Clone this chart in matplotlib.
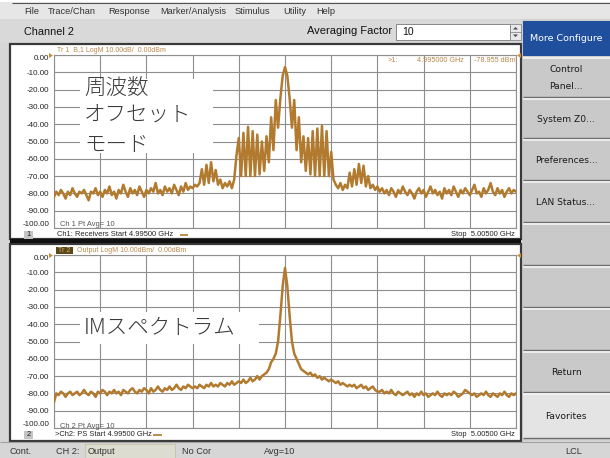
import matplotlib
matplotlib.use("Agg")
import matplotlib.pyplot as plt
from matplotlib.patches import Rectangle, Polygon
import numpy as np

# ---------------- data ----------------
start_ghz = 4.995
stop_ghz = 5.005
n_points = 201
y_ticks = [0, -10, -20, -30, -40, -50, -60, -70, -80, -90, -100]

# Trace 1 (frequency offset mode), dBm at each of 201 sweep points
tr1_db = [
    # 4.99500 .. 4.99795 GHz
    -82, -79, -81, -78, -80, -83, -79, -81, -77, -80,
    -82, -79, -80, -78, -81, -84, -79, -80, -77, -81,
    -79, -82, -78, -80, -76, -81, -79, -83, -78, -80,
    -75, -79, -82, -77, -80, -78, -81, -76, -79, -82,
    -78, -80, -77, -79, -74, -80, -78, -81, -76, -79,
    -77, -80, -75, -78, -81, -76, -79, -74, -78, -76,
    # 4.99800 .. 5.00195 GHz
    -77, -75, -76, -74, -66, -75, -63.5, -74, -62, -73,
    -66.5, -75, -72, -77, -74, -76, -73, -77, -72, -58,
    -48, -70, -45, -70, -41.5, -70, -44, -70, -46, -69,
    -50, -67, -47, -62, -36, -55, -26, -42, -25, -12,
    -7, -12, -25, -42, -26, -55, -36, -62, -47, -67,
    -48, -69, -44, -70, -42.5, -70, -41, -70, -44, -70,
    -56, -72, -75, -77, -74, -78, -75, -77, -68, -76,
    -66, -75, -63, -74, -64, -76, -70, -77, -75, -78,
    # 5.00200 .. 5.00500 GHz
    -76, -79, -77, -80, -78, -81, -77, -79, -82, -78,
    -80, -76, -79, -81, -78, -80, -83, -79, -77, -80,
    -78, -82, -79, -76, -80, -78, -81, -79, -83, -77,
    -80, -78, -81, -76, -79, -82, -78, -80, -77, -79,
    -81, -78, -75, -80, -79, -82, -77, -80, -78, -74,
    -79, -81, -77, -80, -78, -82, -79, -77, -80, -78,
    -79,
]

# Trace 2 (IM spectrum), dBm at each of 201 sweep points
tr2_db = [
    -85, -80, -81, -79, -80, -82, -80, -79, -81, -80,
    -79, -81, -80, -78, -80, -81, -79, -80, -82, -79,
    -80, -78, -79, -81, -79, -80, -78, -80, -79, -81,
    -78, -79, -80, -78, -77, -79, -80, -78, -79, -77,
    -78, -80, -77, -79, -78, -76, -78, -79, -77, -78,
    -76, -78, -77, -75, -77, -78, -76, -77, -75, -76,
    -77, -76, -77, -75, -76, -77, -75, -76, -74, -76,
    -75, -76, -74, -75, -76, -74, -75, -73, -75, -74,
    -73, -74, -72, -74, -73, -71, -73, -72, -70, -72,
    -70, -69, -68, -66, -62, -60, -57, -50, -35, -18,
    -7.5,
    -18, -35, -50, -57, -60, -63, -66, -67, -68, -69,
    -68, -70, -69, -71, -70, -72, -71, -72, -73, -72,
    -73, -74, -73, -75, -74, -75, -76, -75, -76, -75,
    -77, -76, -75, -77, -76, -78, -77, -76, -78, -79,
    -79, -78, -80, -79, -80, -78, -80, -81, -79, -80,
    -81, -80, -79, -81, -80, -82, -80, -81, -79, -81,
    -80, -82, -81, -80, -81, -79, -81, -82, -80, -81,
    -80, -81, -79, -80, -82, -81, -80, -78, -79, -80,
    -81, -80, -82, -81, -80, -81, -79, -81, -82, -80,
    -81, -82, -80, -81, -79, -81, -82, -80, -81, -80,
]

menu_items = ["File", "Trace/Chan", "Response", "Marker/Analysis", "Stimulus", "Utility", "Help"]
menu_x = [24, 48, 108, 160, 235, 283, 316]

button_labels = ["Control\nPanel...", "System Z0...", "Preferences...", "LAN Status...",
                 "", "", "", "Return", "Favorites"]
button_tops = [57, 98, 139, 181, 223, 266, 308, 351, 393]
button_bottoms = [97, 138, 180, 222, 265, 307, 350, 392, 438]

assert len(tr1_db) == n_points and len(tr2_db) == n_points

# ---------------- styling ----------------
W, H = 610, 458
TRACE = "#b27a2e"
TAN = "#b8894c"
GRID = "#8e8e8e"
UI_BG = "#d6d6d6"
UIFONT = "Liberation Sans"
JPFONT = ["Noto Sans CJK JP", "DejaVu Sans"]

fig = plt.figure(figsize=(W / 100, H / 100), dpi=100)
fig.patch.set_facecolor(UI_BG)

ui = fig.add_axes([0, 0, 1, 1], zorder=0)
ui.set_xlim(0, W)
ui.set_ylim(H, 0)
ui.axis("off")

over = fig.add_axes([0, 0, 1, 1], zorder=10)
over.set_xlim(0, W)
over.set_ylim(H, 0)
over.axis("off")
over.patch.set_alpha(0)


def rect(ax, x0, y0, x1, y1, fc, ec="none", lw=0, z=1):
    ax.add_patch(Rectangle((x0, y0), x1 - x0, y1 - y0, facecolor=fc,
                           edgecolor=ec, linewidth=lw, zorder=z))


def hline(ax, x0, x1, y, color, lw=1, z=2):
    ax.plot([x0, x1], [y, y], color=color, lw=lw, zorder=z, solid_capstyle="butt")


def txt(ax, x, y, s, size, color="#222222", ha="left", va="center", family=UIFONT, **kw):
    ax.text(x, y, s, fontsize=size, color=color, ha=ha, va=va, family=family, zorder=20, **kw)


# menu bar
rect(ui, 0, 0, W, 2, "white")
rect(ui, 0, 2, W, 19, "#e6e6e6")
hline(ui, 12, W, 2.5, "#555555", 0.8)
for name, x in zip(menu_items, menu_x):
    txt(ui, x, 12, name, 6.7, "#333333")

# channel bar
rect(ui, 0, 19, W, 43, "#d9d9d9")
txt(ui, 24, 32, "Channel 2", 7.8, "#111111")
txt(ui, 307, 31, "Averaging Factor", 8.0, "#111111")
rect(ui, 396, 24, 510, 40, "white", "#777777", 0.6, z=2)
txt(ui, 402, 32, "10", 7.5, "#111111")
rect(ui, 510, 24, 521, 40, "#e8e8e8", "#888888", 0.6, z=2)
hline(ui, 510, 521, 32, "#888888", 0.6, z=3)
ui.add_patch(Polygon([[513, 29.5], [518, 29.5], [515.5, 27]], closed=True, fc="#444", ec="none", zorder=4))
ui.add_patch(Polygon([[513, 34.5], [518, 34.5], [515.5, 37]], closed=True, fc="#444", ec="none", zorder=4))

# right soft-key panel
rect(ui, 522, 19, W, 441, "#cfcfcf")
rect(ui, 523, 21, W, 56, "#1f4f9d")
txt(ui, 566, 38.5, "More Configure", 6.8, "white", ha="center", family="DejaVu Sans")
for lab, t, b in zip(button_labels, button_tops, button_bottoms):
    face = "#e4e4e4" if lab == "Favorites" else "#c9c9c9"
    rect(ui, 523, t, W, b, face)
    hline(ui, 523, W, t + 0.5, "#f4f4f4", 1.2, z=3)
    hline(ui, 523, W, b - 0.5, "#6e6e6e", 1.0, z=3)
    if lab:
        txt(ui, 566, (t + b) / 2 + 1, lab, 6.6, "#1a1a1a", ha="center",
            family="DejaVu Sans", linespacing=2.2)

# status bar
rect(ui, 0, 441, W, H, "#d6d6d6")
hline(ui, 0, W, 441.5, "#a0a0a0", 0.8)
rect(ui, 85, 444, 175, 458, "#dcdcd0", "#c8c0a0", 0.6, z=2)
txt(ui, 10, 451, "Cont.", 6.6, "#333333")
txt(ui, 56, 451, "CH 2:", 6.6, "#333333")
txt(ui, 88, 451, "Output", 6.6, "#333333")
txt(ui, 182, 451, "No Cor", 6.6, "#333333")
txt(ui, 264, 451, "Avg=10", 6.6, "#333333")
txt(ui, 574, 451, "LCL", 6.6, "#333333", ha="center")

# chart panels
for (top, bot) in [(44, 239), (244, 441)]:
    rect(ui, 10, top, 521, bot, "white", "#3a3a3a", 1.6, z=1)
hline(ui, 10, 521, 240.5, "#111111", 3.0, z=3)


def make_axes(y0, y1, data):
    ax = fig.add_axes([54 / W, 1 - y1 / H, (516 - 54) / W, (y1 - y0) / H], zorder=5)
    freq = np.linspace(start_ghz, stop_ghz, n_points)
    ax.plot(freq, data, color=TRACE, lw=1.8, solid_joinstyle="round", zorder=3)
    ax.set_xlim(start_ghz, stop_ghz)
    ax.set_ylim(-100, 0)
    ax.set_xticks(np.linspace(start_ghz, stop_ghz, 11))
    ax.set_xticklabels([])
    ax.set_yticks(y_ticks)
    ax.set_yticklabels([f"{v:.2f}" for v in y_ticks], family=UIFONT)
    ax.tick_params(length=0, pad=3.5, labelsize=5.8, labelcolor="#222222")
    for lab, v in zip(ax.get_yticklabels(), y_ticks):
        if v == 0:
            lab.set_va("top")
        elif v == -100:
            lab.set_va("bottom")
    ax.grid(True, color=GRID, lw=0.8)
    ax.set_axisbelow(True)
    for s in ax.spines.values():
        s.set_color(GRID)
        s.set_linewidth(0.8)
    ax.set_facecolor("white")
    return ax


ax1 = make_axes(55, 228, tr1_db)
ax2 = make_axes(255, 428, tr2_db)

# panel 1 annotations
txt(over, 57, 50, "Tr 1  B,1 LogM 10.00dB/  0.00dBm", 5.0, TAN)
txt(over, 388, 61, ">1:", 5.2, TAN)
txt(over, 417, 61, "4.995000 GHz", 5.2, TAN)
txt(over, 515, 61, "-78.955 dBm", 5.2, TAN, ha="right")
over.add_patch(Polygon([[49, 53], [49, 58], [53, 55.5]], closed=True, fc="#d08a30", ec="none", zorder=12))
over.add_patch(Polygon([[521, 53], [521, 58], [517, 55.5]], closed=True, fc="#d08a30", ec="none", zorder=12))
txt(over, 60, 225, "Ch 1 Pt Avg= 10", 5.4, "#555555")
rect(over, 24, 231, 33, 239, "#c4c4c4", z=11)
txt(over, 28.5, 235, "1", 5.4, "#222222", ha="center")
txt(over, 57, 235, "Ch1: Receivers Start 4.99500 GHz", 5.4, "#222222")
hline(over, 180, 188, 235, TRACE, 1.2, z=12)
txt(over, 515, 235, "Stop  5.00500 GHz", 5.4, "#222222", ha="right")

# panel 2 annotations
rect(over, 56, 247, 73, 254, "#5a4818", z=11)
txt(over, 64.5, 250.5, "Tr 2", 5.0, "#d8b070", ha="center")
txt(over, 77, 250.5, "Output LogM 10.00dBm/  0.00dBm", 5.0, TAN)
over.add_patch(Polygon([[49, 253], [49, 258], [53, 255.5]], closed=True, fc="#d08a30", ec="none", zorder=12))
over.add_patch(Polygon([[521, 253], [521, 258], [517, 255.5]], closed=True, fc="#d08a30", ec="none", zorder=12))
txt(over, 60, 426, "Ch 2 Pt Avg= 10", 5.4, "#555555")
rect(over, 24, 431, 33, 439, "#c4c4c4", z=11)
txt(over, 28.5, 435, "2", 5.4, "#222222", ha="center")
txt(over, 55, 435, ">Ch2: PS Start 4.99500 GHz", 5.4, "#222222")
hline(over, 153, 162, 435, TRACE, 1.2, z=12)
txt(over, 515, 435, "Stop  5.00500 GHz", 5.4, "#222222", ha="right")

# Japanese labels on white boxes
rect(over, 80, 79, 213, 153, "white", z=11)
txt(over, 84, 88, "周波数", 15.5, "#3a3a3a", family=JPFONT, fontweight="light")
txt(over, 84, 116, "オフセット", 15.5, "#3a3a3a", family=JPFONT, fontweight="light")
txt(over, 84, 144, "モード", 15.5, "#3a3a3a", family=JPFONT, fontweight="light")

rect(over, 80, 312, 259, 344, "white", z=11)
txt(over, 84, 328, "IMスペクトラム", 15.5, "#3a3a3a", family=JPFONT, fontweight="light")

fig.savefig("out.png", dpi=100, facecolor=fig.get_facecolor())
